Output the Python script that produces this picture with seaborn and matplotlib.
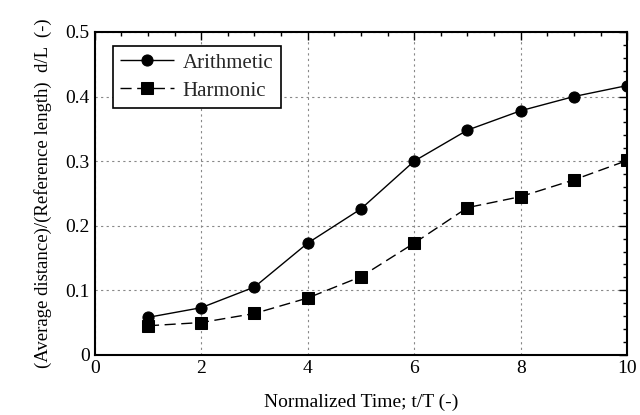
import numpy as np
import pandas as pd
import matplotlib.pyplot as plt
import seaborn as sns
from matplotlib.ticker import MultipleLocator, FormatStrFormatter

# --- datos ---
tiempo = [1, 2, 3, 4, 5, 6, 7, 8, 9, 10]
aritmetica = [0.058, 0.073, 0.105, 0.173, 0.226, 0.300, 0.348, 0.378, 0.400, 0.417]
armonica = [0.045, 0.050, 0.064, 0.088, 0.121, 0.173, 0.228, 0.245, 0.271, 0.301]

df = pd.DataFrame({
    't': tiempo * 2,
    'd': aritmetica + armonica,
    'serie': ['Arithmetic'] * len(tiempo) + ['Harmonic'] * len(tiempo),
})

sns.set_theme(style='white')
plt.rcParams['font.family'] = ['Liberation Serif', 'DejaVu Serif']

fig, ax = plt.subplots(figsize=(6.4, 4.15), dpi=100)
fig.subplots_adjust(left=0.148, right=0.98, top=0.923, bottom=0.145)

sns.lineplot(
    data=df, x='t', y='d', style='serie', markers=['o', 's'],
    dashes=[(1, 0), (8, 4)], color='black', markersize=8,
    linewidth=1.0, markeredgecolor='black', ax=ax,
)

ax.set_xlim(0, 10)
ax.set_ylim(0, 0.5)
ax.xaxis.set_major_locator(MultipleLocator(2))
ax.xaxis.set_minor_locator(MultipleLocator(0.5))
ax.yaxis.set_major_locator(MultipleLocator(0.1))
ax.yaxis.set_minor_locator(MultipleLocator(0.02))
ax.xaxis.set_major_formatter(FormatStrFormatter('%g'))
ax.yaxis.set_major_formatter(FormatStrFormatter('%g'))

ax.tick_params(which='both', direction='in', top=True, right=True, colors='black', labelsize=14)
ax.tick_params(which='major', length=6, width=1)
ax.tick_params(which='minor', length=3, width=1)
for s in ax.spines.values():
    s.set_color('black')
    s.set_linewidth(1.5)

ax.grid(True, which='major', linestyle=(0, (2, 3)), color='#888888', linewidth=0.8)

ax.set_xlabel('Normalized Time; t/T (-)', fontsize=14, color='black', labelpad=12)
ax.set_ylabel('(Average distance)/(Reference length)  d/L  (-)', fontsize=13.5, color='black', labelpad=10)

leg = ax.legend(loc='upper left', bbox_to_anchor=(0.034, 0.957), borderaxespad=0, fontsize=15,
                frameon=True, fancybox=False, edgecolor='black', handlelength=2.6,
                handletextpad=0.4, labelspacing=0.4, borderpad=0.35)
leg.get_frame().set_linewidth(1.2)
leg.get_frame().set_alpha(1)

plt.savefig('out.png', dpi=100)
